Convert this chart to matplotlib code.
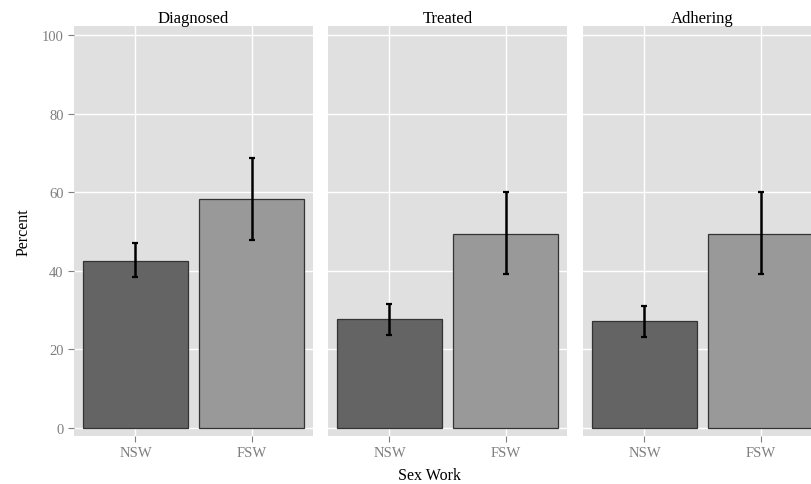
import matplotlib.pyplot as plt
import numpy as np

plt.rcParams["font.family"] = ["Liberation Serif", "DejaVu Serif"]

panels = ["Diagnosed", "Treated", "Adhering"]
groups = ["NSW", "FSW"]
percent = {
    "Diagnosed": [42.5, 58.3],
    "Treated": [27.6, 49.3],
    "Adhering": [27.1, 49.4],
}
lower = {
    "Diagnosed": [38.3, 47.9],
    "Treated": [23.5, 39.2],
    "Adhering": [23.2, 39.2],
}
upper = {
    "Diagnosed": [47.0, 68.6],
    "Treated": [31.5, 60.0],
    "Adhering": [31.1, 60.0],
}
bar_colors = ["#646464", "#999999"]

W, H = 812, 485
fig = plt.figure(figsize=(W / 100, H / 100), dpi=100)

lefts = [74, 328, 583]
pw, top, bot = 239, 27, 437
x = np.arange(1, len(groups) + 1)

for i, (name, lp) in enumerate(zip(panels, lefts)):
    ax = fig.add_axes([lp / W, (H - bot) / H, pw / W, (bot - top) / H])
    ax.set_facecolor("#E0E0E0")
    for s in ax.spines.values():
        s.set_visible(False)
    ax.set_axisbelow(True)
    ax.grid(True, color="white", linewidth=1.0)
    vals = np.array(percent[name])
    lo = vals - np.array(lower[name])
    hi = np.array(upper[name]) - vals
    ax.bar(x, vals, width=0.9, color=bar_colors, edgecolor="#333333", linewidth=0.9)
    ax.errorbar(x, vals, yerr=[lo, hi], fmt="none", ecolor="black",
                elinewidth=1.8, capsize=2.5, capthick=1.6)
    ax.set_xlim(0.47, 2.53)
    ax.set_ylim(-2.1, 102.3)
    ax.set_yticks([0, 20, 40, 60, 80, 100])
    ax.set_xticks(x)
    ax.set_xticklabels(groups)
    ax.tick_params(colors="#7F7F7F", labelcolor="#7F7F7F", labelsize=10.5,
                   length=4, width=0.8)
    if i > 0:
        ax.tick_params(axis="y", left=False, labelleft=False)
    else:
        ax.set_ylabel("Percent", fontsize=11.5, labelpad=7)
    ax.set_title(name, fontsize=12, pad=3)

fig.text(429 / W, 1 - 476 / H, "Sex Work", ha="center", va="center", fontsize=11.5)

fig.savefig("out.png", dpi=100)
